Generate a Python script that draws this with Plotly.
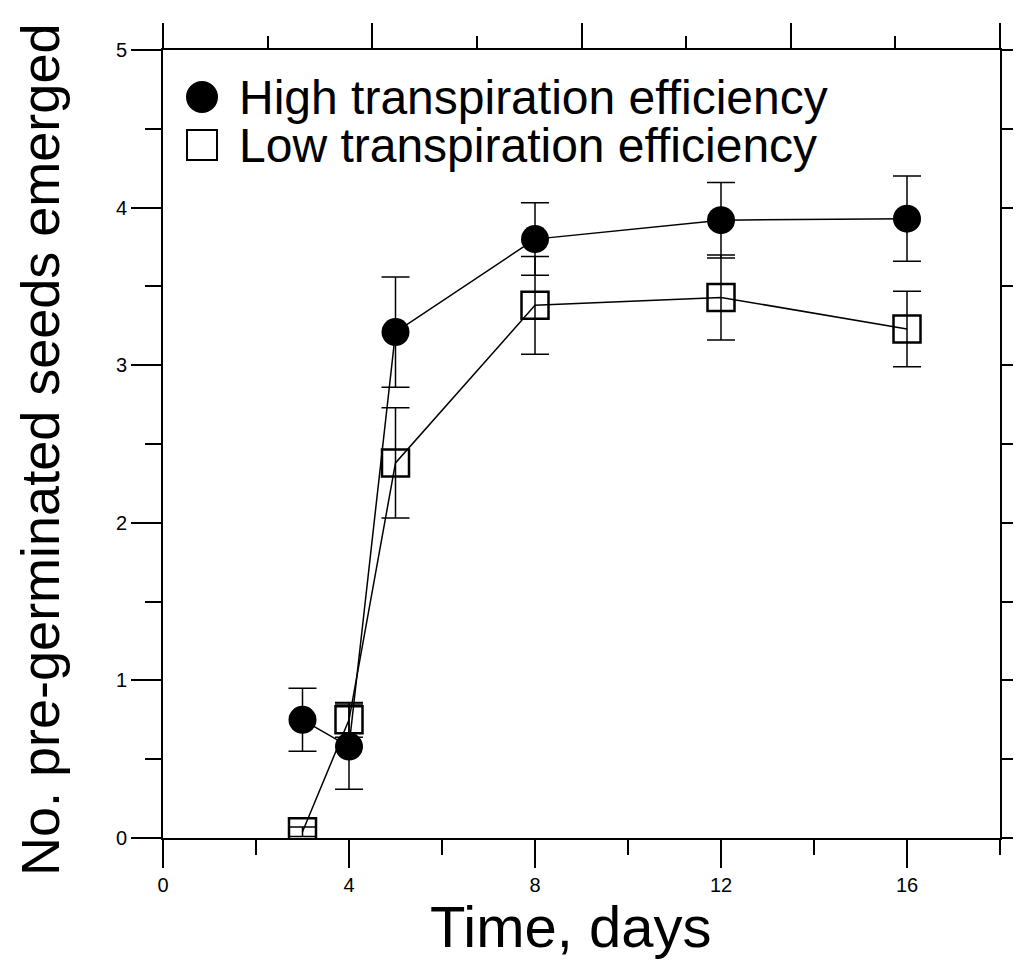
import plotly.graph_objects as go

# ---- data ----
days = [3, 4, 5, 8, 12, 16]
high_te = [0.75, 0.58, 3.21, 3.80, 3.92, 3.93]
high_te_err = [0.20, 0.27, 0.35, 0.23, 0.24, 0.27]
low_te = [0.04, 0.75, 2.38, 3.38, 3.43, 3.23]
low_te_err = [0.03, 0.11, 0.35, 0.31, 0.27, 0.24]

series_names = ["High transpiration efficiency", "Low transpiration efficiency"]
x_title = "Time, days"
y_title = "No. pre-germinated seeds emerged"

FONT = "Liberation Sans, Arial, sans-serif"
OFF = 8  # page body margin
W, H = 1021 - OFF, 963 - OFF
# plot area in screen pixels: x 163..1000, y 50..838
PX0, PX1, PY0, PY1 = 163, 1000, 50, 838
L, T = PX0 - OFF, PY0 - OFF
PW, PH = PX1 - PX0, PY1 - PY0
R, B = W - L - PW, H - T - PH


def px_to_paper(px, py):
    return (px - PX0) / PW, (PY1 - py) / PH


fig = go.Figure()

fig.add_trace(go.Scatter(
    x=days, y=low_te, mode="lines+markers", name=series_names[1],
    line=dict(color="black", width=1.5),
    marker=dict(symbol="square-open", size=27, color="black",
                line=dict(width=2.5, color="black")),
    error_y=dict(type="data", array=low_te_err, color="black", thickness=1.5, width=14),
    showlegend=False,
))
fig.add_trace(go.Scatter(
    x=days, y=high_te, mode="lines+markers", name=series_names[0],
    line=dict(color="black", width=1.5),
    marker=dict(symbol="circle", size=28, color="black"),
    error_y=dict(type="data", array=high_te_err, color="black", thickness=1.5, width=14),
    showlegend=False,
))
# empty trace to activate the mirror (top / right) axes
fig.add_trace(go.Scatter(x=[], y=[], xaxis="x2", yaxis="y2", showlegend=False,
                         hoverinfo="skip"))

axis_common = dict(showgrid=False, zeroline=False, showline=True, linecolor="black",
                   linewidth=2, ticks="outside", tickcolor="black", tickwidth=2,
                   automargin=False)

fig.update_layout(
    width=W, height=H, autosize=False,
    margin=dict(l=L, r=R, t=T, b=B, autoexpand=False),
    paper_bgcolor="white", plot_bgcolor="white",
    font=dict(family=FONT, color="black"),
    xaxis=dict(range=[0, 18], tick0=0, dtick=4, ticklen=28,
               tickfont=dict(size=20, family=FONT, color="black"),
               minor=dict(tick0=0, dtick=2, ticklen=15, ticks="outside",
                          tickcolor="black", tickwidth=2),
               **axis_common),
    yaxis=dict(range=[0, 5], tick0=0, dtick=1, ticklen=30,
               tickfont=dict(size=20, family=FONT, color="black"),
               minor=dict(tick0=0, dtick=0.5, ticklen=16, ticks="outside",
                          tickcolor="black", tickwidth=2),
               **axis_common),
    xaxis2=dict(overlaying="x", side="top", range=[0, 8], tick0=0, dtick=2,
                ticklen=25, showticklabels=False,
                minor=dict(tick0=0, dtick=1, ticklen=12, ticks="outside",
                           tickcolor="black", tickwidth=2),
                **axis_common),
    yaxis2=dict(overlaying="y", side="right", range=[0, 5], tick0=0, dtick=1,
                ticklen=22, showticklabels=False,
                minor=dict(tick0=0, dtick=0.5, ticklen=14, ticks="outside",
                           tickcolor="black", tickwidth=2),
                **axis_common),
)

# axis titles
tx, ty = px_to_paper(570, 927)
fig.add_annotation(text=x_title, xref="paper", yref="paper", x=tx, y=ty,
                   xanchor="center", yanchor="middle", showarrow=False,
                   font=dict(size=58, family=FONT, color="black"))
yx, yy = px_to_paper(40, 450)
fig.add_annotation(text=y_title, xref="paper", yref="paper", x=yx, y=yy,
                   xanchor="center", yanchor="middle", showarrow=False, textangle=-90,
                   font=dict(size=54, family=FONT, color="black"))

# manual legend (large symbols)
legend_rows = [(97, "circle", series_names[0]), (145, "rect", series_names[1])]
for py, shp, label in legend_rows:
    cx, cy = px_to_paper(202, py)
    fig.add_shape(type=shp, xref="paper", yref="paper", xsizemode="pixel",
                  ysizemode="pixel", xanchor=cx, yanchor=cy,
                  x0=-15, x1=15, y0=-15, y1=15,
                  line=dict(color="black", width=2),
                  fillcolor="black" if shp == "circle" else "rgba(0,0,0,0)")
    lx, ly = px_to_paper(237, py)
    fig.add_annotation(text=label, xref="paper", yref="paper", x=lx, y=ly,
                       xanchor="left", yanchor="middle", showarrow=False,
                       font=dict(size=48, family=FONT, color="black"))

fig.write_html("out.html")
